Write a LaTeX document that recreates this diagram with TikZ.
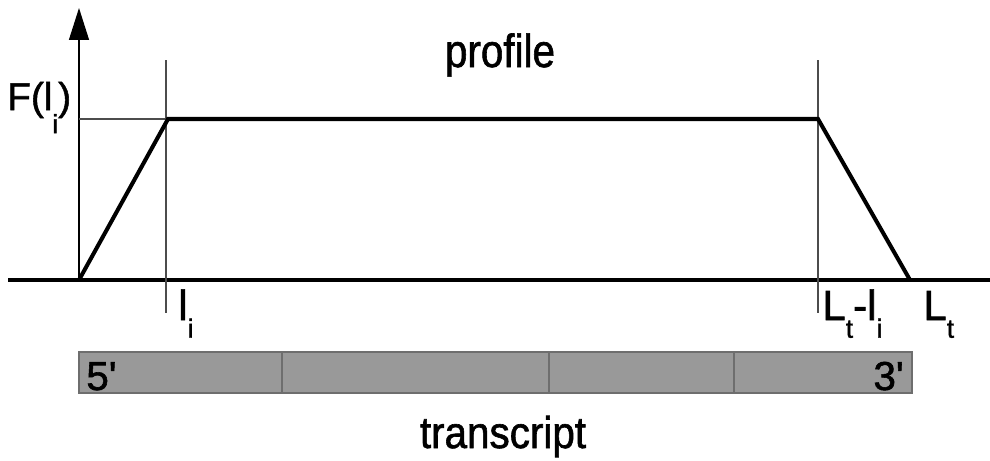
\documentclass[tikz,border=0pt]{standalone}
\usepackage{fontspec}
\setmainfont{Liberation Sans}[BoldFont=Liberation Sans, BoldFeatures={FakeBold=1.4}]
\usetikzlibrary{arrows.meta,positioning}
\newcommand{\idx}[2][-0.42em]{\raisebox{#1}{\fontsize{15}{15}\selectfont #2}}

\begin{document}
\begin{tikzpicture}[x=0.02cm,y=-0.02cm]
\tikzstyle{thickline}=[line width=2.3pt]
\tikzstyle{thinline}=[line width=0.6pt, black!70]
\tikzstyle{seg}=[fill=black!40, draw=black!57, line width=0.6pt]
\tikzstyle{lbl}=[inner sep=0pt, font=\bfseries\fontsize{24}{28}\selectfont]
\useasboundingbox (0,0) rectangle (990,460);

% axes
\coordinate (o) at (79,280);
\coordinate (left) at (8,280);
\coordinate (right) at (990,280);
\coordinate (ytop) at (79,8);
\draw[thickline] (left) -- (right);
\draw[line width=0.8pt, -{Triangle[width=0.4cm,length=0.64cm]}] (o) -- (ytop);

% profile
\coordinate (rise) at (168,119);
\coordinate (fall) at (818,119);
\coordinate (end) at (910,280);
\coordinate (li top) at (166,60);
\coordinate (li bot) at (166,313);
\coordinate (lt top) at (818,60);
\coordinate (lt bot) at (818,313);
\coordinate (fl) at (79,119);
\draw[thinline] (li top) -- (li bot);
\draw[thinline] (lt top) -- (lt bot);
\draw[thinline] (fl) -- (rise);
\draw[thickline, line join=miter] (o) -- (rise) -- (fall) -- (end);

\node[lbl, anchor=base west, font=\bfseries\fontsize{22}{26}\selectfont] (F) at (7,110) {F(l\idx[-0.6em]{i})};
\node[lbl, anchor=base west] (li) at (178,320) {l\idx{i}};
\node[lbl, anchor=base west] (ltli) at (822,320) {L\idx{t}-l\idx{i}};
\node[lbl, anchor=base west] (lt) at (923,320) {L\idx{t}};
\node[lbl, anchor=base, font=\bfseries\fontsize{23}{28}\selectfont] (profile) at (500,67) {\scalebox{1}[1.15]{profile}};

% transcript
\foreach \a/\b in {79/282, 282/549, 549/734, 734/912}
  \draw[seg] (\a,352) rectangle (\b,393);
\node[lbl, anchor=base west, font=\bfseries\fontsize{23}{28}\selectfont] (five) at (86,390) {5\textquotesingle};
\node[lbl, anchor=base east, font=\bfseries\fontsize{23}{28}\selectfont] (three) at (904,390) {3\textquotesingle};
\node[lbl, anchor=base, font=\bfseries\fontsize{23}{28}\selectfont] (transcript) at (503,448) {\scalebox{1}[1.1]{transcript}};
\end{tikzpicture}
\end{document}
